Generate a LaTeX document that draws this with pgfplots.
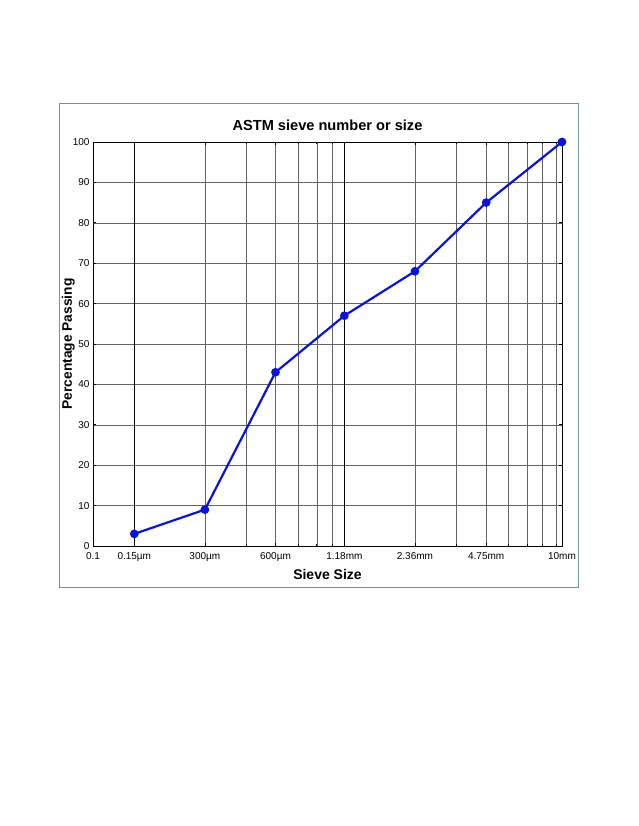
\documentclass[border=0pt]{standalone}
\usepackage{fontspec}
\setmainfont{Liberation Sans}
\usepackage{pgfplots}
\pgfplotsset{compat=1.18}

\definecolor{frame}{RGB}{105,150,170}
\definecolor{gridgray}{RGB}{100,100,100}
\definecolor{lineblue}{RGB}{10,20,215}

\begin{document}
\begin{tikzpicture}[x=1pt,y=1pt]
\useasboundingbox (0,0) rectangle (638,826);
\draw[frame, line width=1pt] (59,238) rectangle (578,722);
\begin{axis}[
    at={(93pt,280pt)}, anchor=south west,
    width=469pt, height=404pt, scale only axis,
    xmode=log,
    xmin=0.1, xmax=10,
    ymin=0, ymax=100,
    ytick={0,10,...,100},
    xtick={0.1,0.3,0.6,2.36,4.75,10},
    xticklabels={0.1,300µm,600µm,2.36mm,4.75mm,10mm},
    extra x ticks={0.15,1.18},
    extra x tick labels={0.15µm,1.18mm},
    extra x tick style={grid style={black, line width=0.9pt}},
    minor xtick={0.45,0.75,0.9,1.05,3.54,5.9,7.08,8.26,9.44},
    xmajorgrids, xminorgrids, ymajorgrids,
    grid style={gridgray, line width=0.5pt},
    minor grid style={gridgray, line width=0.5pt},
    tick align=inside,
    major tick length=3pt, minor tick length=2pt,
    tick style={black, line width=0.6pt},
    axis line style={black, line width=0.8pt},
    ticklabel style={font=\fontsize{10}{12}\selectfont},
    xticklabel style={yshift=-3pt},
    /pgf/number format/assume math mode=true,
    title={ASTM sieve number or size},
    title style={font=\bfseries\fontsize{14.6}{16}\selectfont, yshift=2pt},
    xlabel={Sieve Size},
    xlabel style={font=\bfseries\fontsize{14}{16}\selectfont, yshift=-1pt},
    ylabel={Percentage Passing},
    ylabel style={font=\bfseries\fontsize{13.8}{15}\selectfont, yshift=-9pt},
]
\addplot[lineblue, line width=2.2pt, mark=*, mark size=3.2pt,
    mark options={fill=lineblue, draw=lineblue}]
    coordinates {
        (0.15,3)(0.3,9)(0.6,43)(1.18,57)(2.36,68)(4.75,85)(10,100)
    };
\end{axis}
\end{tikzpicture}
\end{document}
